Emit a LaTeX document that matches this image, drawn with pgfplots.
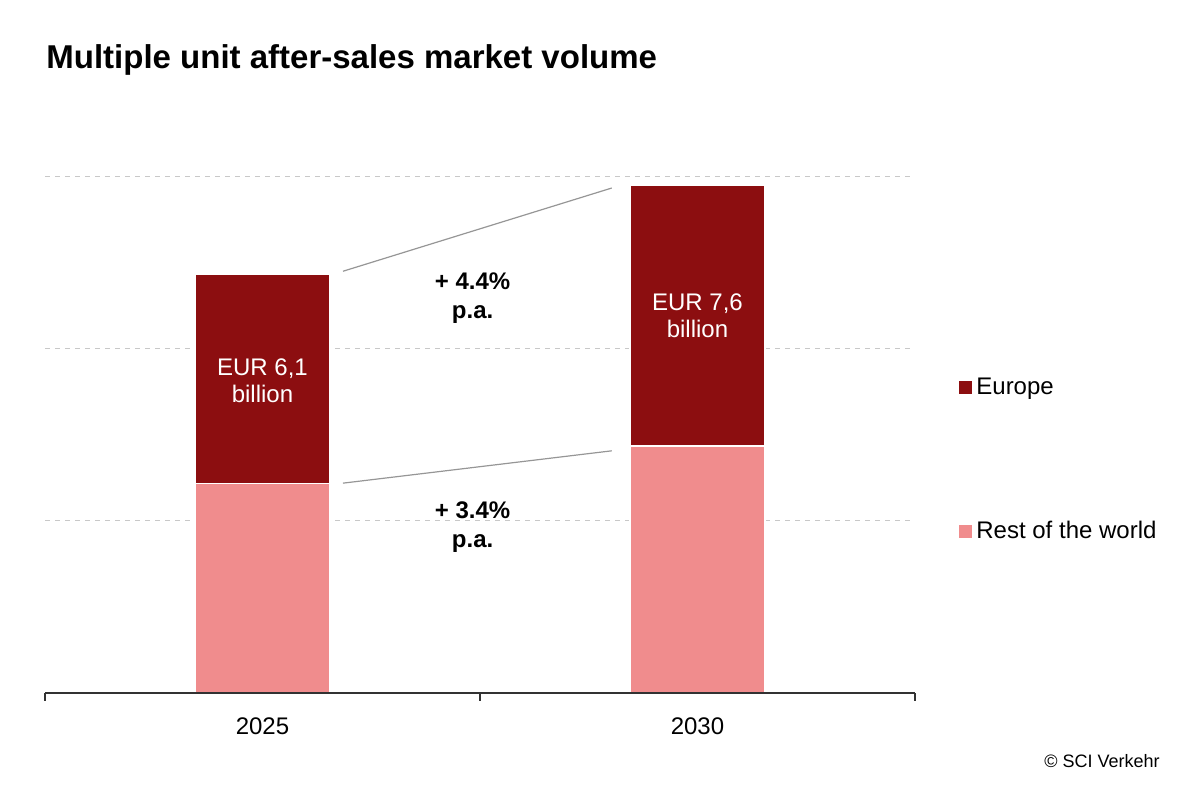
\documentclass[border=0pt]{standalone}
\usepackage{pgfplots}
\pgfplotsset{compat=1.18}
\usepackage{fontspec}
\setmainfont{Liberation Sans}
\definecolor{eur}{RGB}{140,14,16}
\definecolor{rowc}{RGB}{240,140,141}
\definecolor{conn}{RGB}{150,150,150}
\definecolor{gridc}{RGB}{200,200,200}
\definecolor{axc}{RGB}{50,50,50}
\begin{document}
\begin{tikzpicture}
\begin{axis}[
  scale only axis, width=435pt, height=258pt,
  xmin=-0.5, xmax=1.5, ymin=0, ymax=7.5,
  ybar stacked, bar width=67.5pt,
  axis line style={draw=none},
  xtick={0,1}, xticklabels={2025,2030},
  minor xtick={-0.5,0.5,1.5},
  xtick pos=bottom, ytick pos=left,
  tick align=outside,
  major tick length=0pt, minor tick length=4pt,
  minor tick style={axc, line width=0.75pt},
  xticklabel style={anchor=base, yshift=-21pt, inner sep=0pt, font=\fontsize{12}{14}\selectfont},
  ytick={2.5,5,7.5}, yticklabels={},
  ymajorgrids, grid style={gridc, dash pattern=on 2.5pt off 2.5pt, line width=0.5pt},
  clip=false,
  legend style={draw=none, fill=none, at={(axis cs:1.5,3.39)}, xshift=22pt, anchor=west,
    inner sep=0pt, row sep=58pt, font=\fontsize{12}{14}\selectfont,
    /tikz/every odd column/.append style={xshift=1pt}},
  legend cell align=left,
  reverse legend,
  legend image code/.code={\draw[#1,draw=none] (0pt,-3.25pt) rectangle (6.5pt,3.25pt);},
]
\addplot[fill=rowc, draw=white, line width=0.6pt] coordinates {(0,3.04) (1,3.59)};
\addlegendentry{Rest of the world}
\addplot[fill=eur, draw=white, line width=0.6pt] coordinates {(0,3.05) (1,3.79)};
\addlegendentry{Europe}
\coordinate (b0) at (axis cs:-0.5,0);
\coordinate (b1) at (axis cs:1.5,0);
\coordinate (u0) at (axis cs:0.185,6.13);
\coordinate (u1) at (axis cs:0.803,7.34);
\coordinate (d0) at (axis cs:0.185,3.05);
\coordinate (d1) at (axis cs:0.803,3.52);
\coordinate (p1) at (axis cs:0.483,6.12);
\coordinate (p2) at (axis cs:0.483,2.78);
\coordinate (e1) at (axis cs:0,4.87);
\coordinate (e2) at (axis cs:1,5.81);
\end{axis}
\draw[axc, line width=0.75pt] (b0) -- (b1);
\draw[conn, line width=0.6pt] (u0) -- (u1);
\draw[conn, line width=0.6pt] (d0) -- (d1);
\node[anchor=north, align=center, inner sep=0pt, font=\bfseries\fontsize{12}{14.5}\selectfont] at (p1) {+ 4.4\%\\p.a.};
\node[anchor=north, align=center, inner sep=0pt, font=\bfseries\fontsize{12}{14.5}\selectfont] at (p2) {+ 3.4\%\\p.a.};
\node[anchor=north, align=center, inner sep=0pt, text=white, font=\fontsize{12}{13.5}\selectfont] at (e1) {EUR 6,1\\billion};
\node[anchor=north, align=center, inner sep=0pt, text=white, font=\fontsize{12}{13.5}\selectfont] at (e2) {EUR 7,6\\billion};
\node[anchor=base west, inner sep=0pt, font=\bfseries\fontsize{16.5}{20}\selectfont] at (0.5pt,312pt) {Multiple unit after-sales market volume};
\node[anchor=base east, inner sep=0pt, font=\fontsize{9}{11}\selectfont] at (557.5pt,-37.5pt) {© SCI Verkehr};
\path[use as bounding box] (-22.5pt,-54.5pt) rectangle (577.5pt,346.5pt);
\end{tikzpicture}
\end{document}
